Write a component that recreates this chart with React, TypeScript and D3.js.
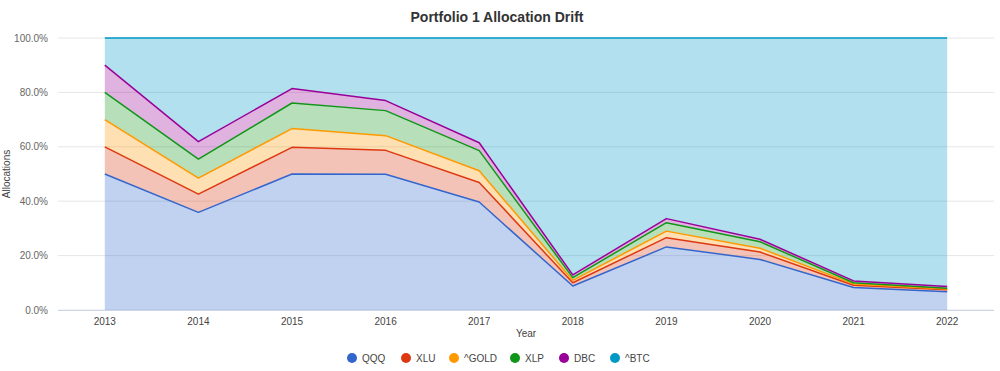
import React, { useRef, useEffect } from "react";
import * as d3 from "d3";

// allocation per year, in percent of the portfolio
const years = ["2013", "2014", "2015", "2016", "2017", "2018", "2019", "2020", "2021", "2022"];
const qqq = [50, 35.9, 50, 49.9, 39.7, 8.8, 23.2, 18.6, 8.3, 6.7];
const xlu = [10, 6.7, 9.8, 8.8, 7.2, 1.2, 3.4, 2.7, 0.8, 0.7];
const gold = [10, 5.9, 6.9, 5.4, 4.3, 0.9, 2.4, 1.4, 0.5, 0.3];
const xlp = [10, 7.0, 9.4, 9.2, 7.4, 1.0, 3.1, 2.4, 0.4, 0.3];
const dbc = [10, 6.4, 5.3, 3.7, 2.9, 1.0, 1.5, 0.9, 0.7, 0.6];
const btc = [10, 38.1, 18.6, 23.0, 38.5, 87.1, 66.4, 74.0, 89.3, 91.4];

const seriesNames = ["QQQ", "XLU", "^GOLD", "XLP", "DBC", "^BTC"];
const seriesValues = [qqq, xlu, gold, xlp, dbc, btc];
const colors = ["#3366cc", "#dc3912", "#ff9900", "#109618", "#990099", "#0099c6"];
const yTicks = [0, 20, 40, 60, 80, 100];

const width = 1000;
const height = 371;
const margin = { top: 38, right: 6, bottom: 61, left: 58 };

export default function App() {
  const svgRef = useRef<SVGSVGElement>(null);

  useEffect(() => {
    const svg = d3.select(svgRef.current);
    svg.selectAll("*").remove();

    const rows = years.map((y, i) => {
      const r: any = { year: y };
      seriesNames.forEach((n, k) => (r[n] = seriesValues[k][i]));
      return r;
    });
    const stacked = d3.stack().keys(seriesNames)(rows);

    const x = d3.scaleBand().domain(years).range([margin.left, width - margin.right]);
    const cx = (d: string) => (x(d) as number) + x.bandwidth() / 2;
    const y = d3.scaleLinear().domain([0, 100]).range([height - margin.bottom, margin.top]);

    const font = "'Liberation Sans', Arial, sans-serif";

    // title
    svg.append("text")
      .attr("x", 497).attr("y", 22)
      .attr("text-anchor", "middle")
      .attr("font-family", font).attr("font-size", 14).attr("font-weight", "bold")
      .attr("fill", "#333")
      .text("Portfolio 1 Allocation Drift");

    // grid + y labels
    const g = svg.append("g");
    yTicks.forEach((t) => {
      g.append("line")
        .attr("x1", margin.left).attr("x2", width - margin.right)
        .attr("y1", y(t)).attr("y2", y(t))
        .attr("stroke", "#e6e6e6").attr("stroke-width", 1);
      g.append("text")
        .attr("x", 48).attr("y", y(t) + 3.5)
        .attr("text-anchor", "end")
        .attr("font-family", font).attr("font-size", 10)
        .attr("fill", "#666")
        .text(d3.format(".1f")(t) + "%");
    });

    svg.append("text")
      .attr("transform", `translate(10,${(margin.top + height - margin.bottom) / 2}) rotate(-90)`)
      .attr("text-anchor", "middle")
      .attr("font-family", font).attr("font-size", 10)
      .attr("fill", "#444")
      .text("Allocations");

    // areas
    const area = d3.area<any>()
      .x((d) => cx(d.data.year))
      .y0((d) => y(d[0]))
      .y1((d) => y(d[1]));
    const line = d3.line<any>()
      .x((d) => cx(d.data.year))
      .y((d) => y(d[1]));

    svg.append("g").selectAll("path")
      .data(stacked)
      .join("path")
      .attr("d", area)
      .attr("fill", (_, i) => colors[i])
      .attr("fill-opacity", 0.3);

    svg.append("g").selectAll("path")
      .data(stacked)
      .join("path")
      .attr("d", line)
      .attr("fill", "none")
      .attr("stroke", (_, i) => colors[i])
      .attr("stroke-width", 1.5)
      .attr("stroke-linejoin", "round");

    // x axis
    svg.append("line")
      .attr("x1", margin.left).attr("x2", width - margin.right)
      .attr("y1", y(0) + 0.5).attr("y2", y(0) + 0.5)
      .attr("stroke", "#ccd6eb");
    svg.append("g").selectAll("text")
      .data(years)
      .join("text")
      .attr("x", (d) => cx(d)).attr("y", 325)
      .attr("text-anchor", "middle")
      .attr("font-family", font).attr("font-size", 10)
      .attr("fill", "#444")
      .text((d) => d);
    svg.append("text")
      .attr("x", (margin.left + width - margin.right) / 2).attr("y", 337)
      .attr("text-anchor", "middle")
      .attr("font-family", font).attr("font-size", 10)
      .attr("fill", "#444")
      .text("Year");

    // legend
    const legendX = [352, 406, 454, 515, 564, 615];
    const lg = svg.append("g");
    seriesNames.forEach((n, i) => {
      lg.append("circle")
        .attr("cx", legendX[i]).attr("cy", 358).attr("r", 5)
        .attr("fill", colors[i]);
      lg.append("text")
        .attr("x", legendX[i] + 10).attr("y", 361.5)
        .attr("font-family", font).attr("font-size", 10)
        .attr("fill", "#444")
        .text(n);
    });
  }, []);

  return (
    <div style={{ position: "fixed", left: 0, top: 0, background: "#fff" }}>
      <svg ref={svgRef} width={width} height={height} />
    </div>
  );
}
